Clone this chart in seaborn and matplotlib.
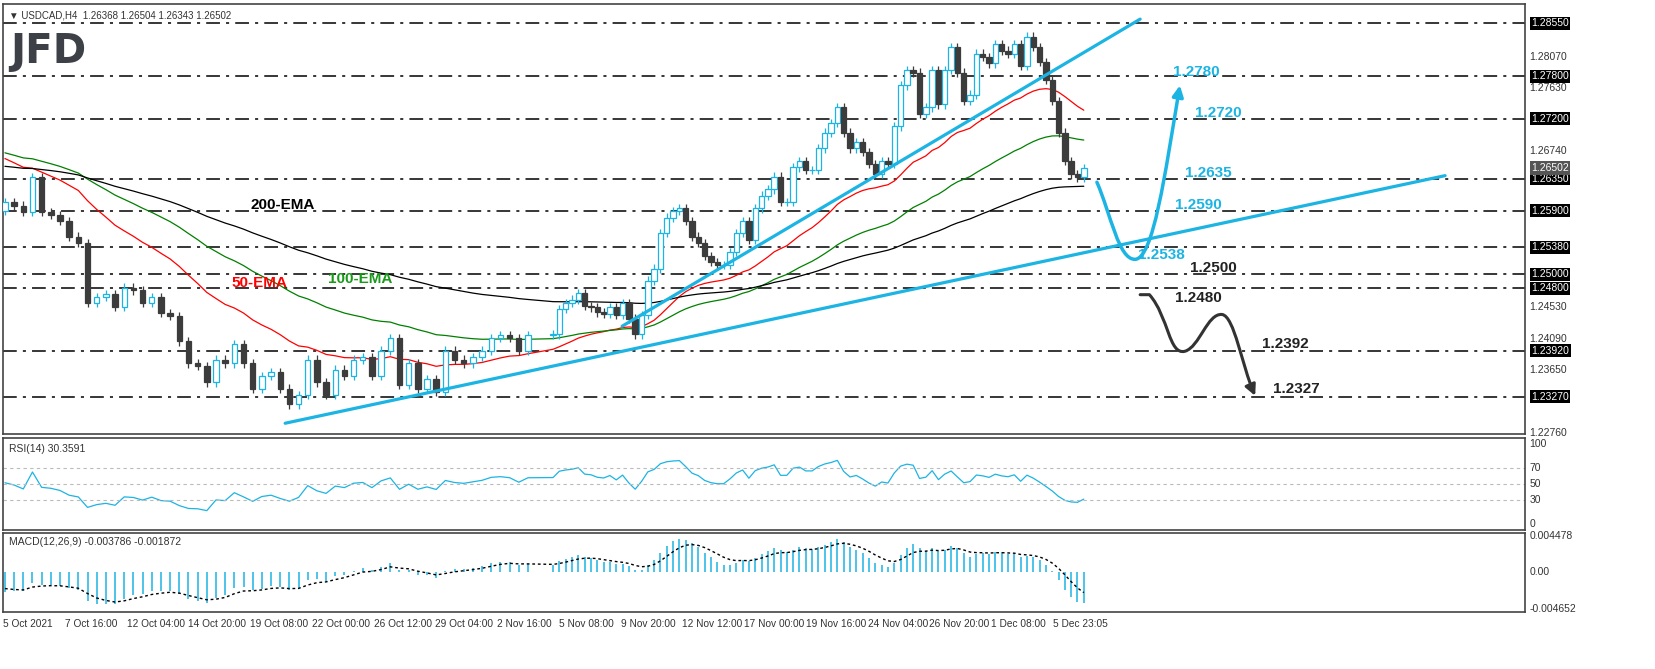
import numpy as np
import pandas as pd
import seaborn as sns
import matplotlib
matplotlib.use("Agg")
import matplotlib.pyplot as plt
from matplotlib.path import Path
from matplotlib.patches import FancyArrowPatch, Rectangle

closes_a = [1.2602, 1.2597, 1.2588, 1.2637, 1.2588, 1.2584, 1.2575, 1.2553, 1.2544, 1.2459,
            1.2468, 1.2472, 1.2454, 1.2481, 1.2477, 1.2459, 1.2468, 1.2445, 1.2441, 1.2405,
            1.2374, 1.2370, 1.2347, 1.2379, 1.2374, 1.2401, 1.2374, 1.2338, 1.2356, 1.2361,
            1.2338, 1.2316, 1.2329, 1.2379, 1.2347, 1.2329, 1.2365, 1.2356, 1.2379, 1.2383,
            1.2356, 1.2392, 1.2410, 1.2343, 1.2374, 1.2338, 1.2352, 1.2334, 1.2392, 1.2379,
            1.2374, 1.2383, 1.2392, 1.2410, 1.2414, 1.2410, 1.2392, 1.2414]
closes_b = [1.2415, 1.2451, 1.2459, 1.2464, 1.2473, 1.2455, 1.2453, 1.2446, 1.2444, 1.2453,
            1.2442, 1.2459, 1.2437, 1.2415, 1.2442, 1.2491, 1.2508, 1.2558, 1.2580, 1.2589,
            1.2593, 1.2575, 1.2553, 1.2544, 1.2526, 1.2517, 1.2513, 1.2513, 1.2531, 1.2558,
            1.2575, 1.2549, 1.2593, 1.2611, 1.2620, 1.2638, 1.2602, 1.2602, 1.2651, 1.2660,
            1.2647, 1.2647, 1.2678, 1.2700, 1.2714, 1.2736, 1.2700, 1.2678, 1.2687, 1.2673,
            1.2656, 1.2642, 1.2660, 1.2656, 1.2709, 1.2767, 1.2789, 1.2785, 1.2727, 1.2736,
            1.2789, 1.2740, 1.2789, 1.2821, 1.2785, 1.2745, 1.2754, 1.2812, 1.2807, 1.2798,
            1.2825, 1.2816, 1.2812, 1.2825, 1.2794, 1.2836, 1.2821,
            1.2800, 1.2775, 1.2745, 1.2700, 1.2660, 1.2641, 1.2637, 1.2650]
first_open = 1.2590

levels = [1.2855, 1.2780, 1.2720, 1.2635, 1.2590, 1.2538, 1.2500, 1.2480, 1.2392, 1.2327]
plain_ticks = [1.28070, 1.27630, 1.26740, 1.24530, 1.24090, 1.23650, 1.22760]
last_price = 1.26502

xlabels = ["5 Oct 2021", "7 Oct 16:00", "12 Oct 04:00", "14 Oct 20:00", "19 Oct 08:00",
           "22 Oct 00:00", "26 Oct 12:00", "29 Oct 04:00", "2 Nov 16:00", "5 Nov 08:00",
           "9 Nov 20:00", "12 Nov 12:00", "17 Nov 00:00", "19 Nov 16:00", "24 Nov 04:00",
           "26 Nov 20:00", "1 Dec 08:00", "5 Dec 23:05"]

# trend lines (bar index, price)
trend_up = ([73.1, 373.6], [1.22892, 1.26393])
trend_steep = ([160.4, 294.6], [1.24264, 1.28606])

blue_targets = [("1.2780", 303.1, 1.27864), ("1.2720", 308.8, 1.27276), ("1.2635", 306.2, 1.26435),
                ("1.2590", 303.6, 1.25973), ("1.2538", 294.0, 1.25273)]
black_targets = [("1.2500", 307.5, 1.25091), ("1.2480", 303.6, 1.24657),
                 ("1.2392", 326.2, 1.24012), ("1.2327", 329.0, 1.23382)]

BLUE = "#1cb4e3"
DARK = "#3c3c3c"
W, H = 1655, 669

sns.set_style("white")
plt.rcParams["font.family"] = ["Liberation Sans", "DejaVu Sans"]

bars = np.concatenate([np.linspace(0.5, 136, len(closes_a)), np.linspace(142.5, 280, len(closes_b))])
closes = np.array(closes_a + closes_b)
opens = np.concatenate([[first_open], closes[:-1]])
df = pd.DataFrame({"bar": bars, "open": opens, "close": closes})


def ema(values, xs, period, seed):
    a = 2 / (period + 1)
    out, cur, prev = [], seed, xs[0]
    for v, x in zip(values, xs):
        k = 1 - (1 - a) ** max(x - prev, 1)
        cur = cur + k * (v - cur)
        out.append(cur)
        prev = x
    return np.array(out)


df["ema50"] = ema(closes, bars, 50, 1.2666)
df["ema100"] = ema(closes, bars, 100, 1.2673)
df["ema200"] = ema(closes, bars, 200, 1.2653)
macd = ema(closes, bars, 12, 1.2620) - ema(closes, bars, 26, 1.2645)
df["macd"] = macd
df["signal"] = ema(macd, bars, 9, -0.0020)

# RSI, Wilder style
diff = np.diff(np.concatenate([[first_open], closes]))
ag, al = 0.0004, 0.0005
rsi = []
for d in diff:
    ag = ag + (max(d, 0) - ag) / 10
    al = al + (max(-d, 0) - al) / 10
    rsi.append(100 - 100 / (1 + ag / al))
df["rsi"] = rsi

fig = plt.figure(figsize=(W / 100, H / 100), dpi=100)
L, R = 3 / W, 1525 / W


def box(top, bot):
    return [L, 1 - bot / H, R - L, (bot - top) / H]


ax = fig.add_axes(box(4, 434))
ax_rsi = fig.add_axes(box(438, 530), sharex=ax)
ax_macd = fig.add_axes(box(533, 612), sharex=ax)
XMAX = (1525 - 3) / 3.86

# candles
up = df["close"] >= df["open"]
for i, r in df.iterrows():
    hi = max(r.open, r.close) + 0.0006
    lo = min(r.open, r.close) - 0.0006
    col = BLUE if up[i] else DARK
    ax.vlines(r.bar, lo, hi, color=col, lw=0.9, zorder=3)
    body = max(abs(r.close - r.open), 0.00005)
    ax.add_patch(Rectangle((r.bar - 0.7, min(r.open, r.close)), 1.4, body,
                           facecolor="white" if up[i] else DARK, edgecolor=col, lw=0.9, zorder=4))

sns.lineplot(data=df, x="bar", y="ema50", ax=ax, color="red", lw=0.9, zorder=2)
sns.lineplot(data=df, x="bar", y="ema100", ax=ax, color="green", lw=0.9, zorder=2)
sns.lineplot(data=df, x="bar", y="ema200", ax=ax, color="black", lw=0.9, zorder=2)

for lv in levels:
    ax.axhline(lv, color="black", lw=1.1, ls=(0, (9, 4, 2, 4)), zorder=1)

ax.plot(*trend_up, color=BLUE, lw=2.3, zorder=5)
ax.plot(*trend_steep, color=BLUE, lw=2.3, zorder=5)

blue_path = Path([(283.4, 1.2630), (287, 1.2585), (289, 1.2520), (293.3, 1.2521),
                  (298, 1.2522), (301, 1.2640), (304.9, 1.2767)],
                 [Path.MOVETO] + [Path.CURVE4] * 6)
ax.add_patch(FancyArrowPatch(path=blue_path, arrowstyle="-|>", mutation_scale=16,
                             color=BLUE, lw=2.5, zorder=6))
black_path = Path([(294.6, 1.2471), (297, 1.2471), (302, 1.2440), (302, 1.2385), (306.2, 1.2391),
                   (310, 1.2397), (312, 1.2445), (315.8, 1.2443),
                   (319, 1.2441), (321, 1.2370), (324.4, 1.2328)],
                  [Path.MOVETO, Path.LINETO] + [Path.CURVE4] * 9)
ax.add_patch(FancyArrowPatch(path=black_path, arrowstyle="-|>", mutation_scale=16,
                             color="#333333", lw=2.2, zorder=6))

for t, x, y in blue_targets:
    ax.text(x, y, t, color=BLUE, fontsize=11, fontweight="bold", va="center", zorder=7)
for t, x, y in black_targets:
    ax.text(x, y, t, color="#222222", fontsize=11, fontweight="bold", va="center", zorder=7)
ax.text(64, 1.25973, "200-EMA", color="black", fontsize=11, fontweight="bold", va="center")
ax.text(59.3, 1.24880, "50-EMA", color="red", fontsize=11, fontweight="bold", va="center")
ax.text(84.2, 1.24936, "100-EMA", color="#1a9a1a", fontsize=11, fontweight="bold", va="center")

ax.set_ylim(1.2274, 1.2882)
ax.set_xlim(0, XMAX)
ax.text(0.004, 0.985, "\u25bc USDCAD,H4  1.26368 1.26504 1.26343 1.26502", transform=ax.transAxes,
        fontsize=7, color="#333333", va="top")
ax.text(0.005, 0.935, "JFD", transform=ax.transAxes, fontsize=29, fontweight="bold",
        color="#3d4047", va="top", family="DejaVu Sans")

# right axis labels
ty = ax.get_yaxis_transform()
for p in plain_ticks:
    ax.text(1.003, p, f"{p:.5f}", transform=ty, fontsize=7.5, color="#333333", va="center", clip_on=False)
for lv in levels:
    ax.text(1.004, lv, f"{lv:.5f}", transform=ty, fontsize=7.5, color="white", va="center",
            bbox=dict(boxstyle="square,pad=0.15", fc="black", ec="none"), clip_on=False, zorder=8)
ax.text(1.004, last_price, f"{last_price:.5f}", transform=ty, fontsize=7.5, color="white", va="center",
        bbox=dict(boxstyle="square,pad=0.15", fc="#555555", ec="none"), clip_on=False, zorder=9)

# RSI
sns.lineplot(data=df, x="bar", y="rsi", ax=ax_rsi, color=BLUE, lw=0.9)
for lv in (70, 50, 30):
    ax_rsi.axhline(lv, color="#bbbbbb", lw=0.8, ls=(0, (3, 3)))
ax_rsi.set_ylim(-8, 108)
ax_rsi.text(0.004, 0.93, "RSI(14) 30.3591", transform=ax_rsi.transAxes,
            fontsize=7.5, color="#333333", va="top")
tr = ax_rsi.get_yaxis_transform()
for v in (100, 70, 50, 30, 0):
    ax_rsi.text(1.003, v, str(v), transform=tr, fontsize=7.5, color="#333333", va="center", clip_on=False)

# MACD
ax_macd.vlines(df["bar"], 0, df["macd"], color=BLUE, lw=1.1)
sns.lineplot(data=df, x="bar", y="signal", ax=ax_macd, color="black", lw=1.0, ls=(0, (2, 2)))
ax_macd.set_ylim(-0.00500, 0.00480)
ax_macd.text(0.004, 0.95, "MACD(12,26,9) -0.003786 -0.001872",
             transform=ax_macd.transAxes, fontsize=7.5, color="#333333", va="top")
tm = ax_macd.get_yaxis_transform()
for v, s in ((0.004478, "0.004478"), (0.0, "0.00"), (-0.004652, "-0.004652")):
    ax_macd.text(1.003, v, s, transform=tm, fontsize=7.5, color="#333333", va="center", clip_on=False)

for a in (ax, ax_rsi, ax_macd):
    a.set_xlabel("")
    a.set_ylabel("")
    a.set_yticks([])
    a.tick_params(axis="x", length=0, labelbottom=False)
    for s in a.spines.values():
        s.set_color("#444444")
        s.set_linewidth(1.2)

ax_macd.set_xticks([16 * k for k in range(len(xlabels))])
ax_macd.set_xticklabels(xlabels, fontsize=7.3, color="#333333", ha="left")
ax_macd.tick_params(axis="x", length=3, labelbottom=True, pad=2)

fig.savefig("out.png", dpi=100, facecolor="white")
